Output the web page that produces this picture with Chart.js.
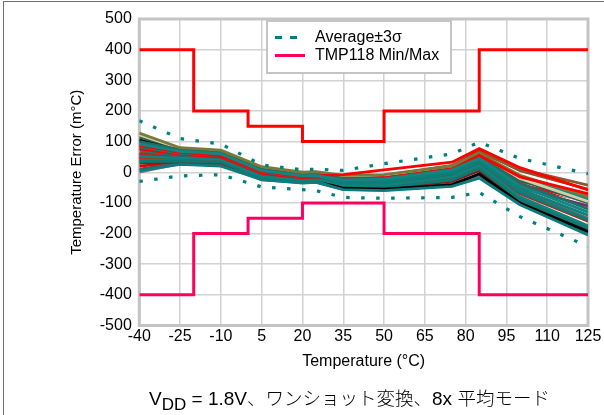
<!DOCTYPE html>
<html>
<head>
<meta charset="utf-8">
<script src="https://cdn.jsdelivr.net/npm/chart.js@4.4.0/dist/chart.umd.min.js"></script>
<style>
  html, body { margin: 0; padding: 0; background: #fff; }
  #wrap { position: relative; width: 604px; height: 415px; overflow: hidden; }
  #frame { position: absolute; left: 3px; top: 1px; width: 620px; height: 430px;
           border-left: 1.5px solid #6e6e6e; border-top: 1.5px solid #6e6e6e; }
  #chart { position: absolute; left: 0; top: 0; }
  #cap { position: absolute; left: 149px; top: 385px; text-align: left;
         font-family: "Liberation Sans", Arial, sans-serif; font-size: 19px; color: #000;
         white-space: nowrap; line-height: 24px; }
  #cap .ja { font-family: "Noto Sans CJK JP", sans-serif; font-weight: 300; font-size: 18.5px; }
  #cap sub { font-size: 17px; vertical-align: -5px; line-height: 0; }
</style>
</head>
<body>
<div id="wrap">
  <div id="frame"></div>
  <canvas id="chart" width="604" height="415"></canvas>
  <div id="cap">V<sub>DD</sub> = 1.8V<span class="ja">、ワンショット変換、</span>8x <span class="ja">平均モード</span></div>
</div>
<script>
// Measurement temperatures (°C)
const temps = [-40, -25, -10, 5, 20, 25, 35, 50, 75, 85, 100, 125];

// Temperature error of each measured unit (m°C), one list per unit
const deviceErrors = [
  [92, 68, 60, 5, -12, -10, -25, -22, 8, 45, -45, -130],
  [88, 65, 55, 2, -14, -12, -8, 8, 33, 77, 15, -58],
  [84, 62, 55, 0, -15, -13, -30, -28, 2, 40, -55, -140],
  [76, 58, 50, -4, -18, -15, -25, -18, 10, 55, -15, -70],
  [128, 80, 72, 18, 0, 2, -10, -8, 20, 62, -10, -80],
  [72, 56, 48, -6, -20, -18, -35, -35, -5, 32, -65, -155],
  [100, 74, 65, 10, -8, -5, -20, -18, 12, 50, -35, -120],
  [5, 26, 20, -24, -35, -33, -57, -60, -46, -19, -106, -205],
  [122, 78, 70, 15, -2, 0, -12, -10, 18, 60, -20, -95],
  [52, 47, 42, -14, -24, -22, -42, -42, -15, 22, -80, -175],
  [96, 72, 62, 8, -10, -8, -22, -15, 20, 65, 10, -42],
  [104, 71, 57, -3, -20, -18, -52, -55, -41, -5, -101, -193],
  [35, 36, 34, -20, -30, -28, -48, -50, -25, 12, -90, -185],
  [115, 76, 68, 12, -5, -3, -15, -12, 15, 55, -25, -100],
  [60, 50, 45, -10, -22, -20, -38, -38, -10, 28, -70, -160],
  [110, 75, 66, 14, -4, -2, -18, -12, 18, 60, -20, -85],
  [55, 48, 43, -12, -25, -22, -40, -40, -12, 25, -50, -110],
  [40, 38, 35, -20, -30, -28, -28, -20, 8, 50, -30, -75],
  [80, 60, 50, -2, -18, -16, -32, -30, 0, 38, -60, -150],
  [44, 42, 38, -18, -28, -26, -45, -45, -18, 20, -85, -180],
  [64, 52, 46, -8, -20, -18, -20, -10, 22, 70, 5, -55],
  [30, 34, 32, -22, -32, -30, -50, -52, -30, 5, -95, -188],
  [48, 45, 40, -15, -26, -24, -35, -30, -2, 40, -40, -90],
  [10, 30, 28, -23, -33, -31, -55, -56, -38, -8, -100, -196],
  [68, 55, 47, -8, -20, -18, -30, -25, 5, 45, -30, -100],
  [0, 28, 25, -25, -34, -32, -56, -58, -44, -15, -104, -200],
  [20, 32, 30, -16, -27, -25, -38, -35, -12, 30, -45, -95]
];

// Average ± 3 sigma envelope (m°C)
const avgPlus3Sigma  = [168, 110, 92, 24, 8, 10, 6, 28, 60, 98, 45, -5];
const avgMinus3Sigma = [-30, -12, -8, -48, -57, -60, -82, -85, -82, -66, -145, -242];

// Specified accuracy limits (m°C)
const limitTemps = [-40, -20, 0, 20, 50, 85, 125];
const maxLimit   = [400, 200, 150, 100, 200, 400, 400];
const minLimit   = [-400, -200, -150, -100, -200, -400, -400];

// Axis ticks
const xTicks = [-40, -25, -10, 5, 20, 35, 50, 65, 80, 95, 110, 125];
const yTicks = [-500, -400, -300, -200, -100, 0, 100, 200, 300, 400, 500];

// Line colour of each unit, same order as deviceErrors
const deviceColors = [
  '#138680', '#ff0000', '#0f7f7a', '#ff0000', '#7a7a38', '#0d7d78', '#1f6f68',
  '#0c7c7c', '#cfcfa8', '#11827c', '#8b5a2b', '#000000', '#0a7a74', '#2f5f4a',
  '#a0302a', '#168a84', '#70306a', '#ff1a1a', '#666666', '#8b4513', '#8b5030',
  '#8b1a1a', '#ff0000', '#555555', '#ffffff', '#777777', '#e00000'
];

const toPoints = (xs, ys) => xs.map((x, i) => ({ x, y: ys[i] }));

const datasets = [];
datasets.push({
  data: toPoints(limitTemps, maxLimit), borderColor: '#ff0000', borderWidth: 3,
  stepped: 'before', pointRadius: 0, order: 0
});
datasets.push({
  data: toPoints(limitTemps, minLimit), borderColor: '#ff0060', borderWidth: 3,
  stepped: 'before', pointRadius: 0, order: 0
});
datasets.push({
  data: toPoints(temps, avgPlus3Sigma), borderColor: '#008080', borderWidth: 3.2,
  borderDash: [3.5, 11.5], pointRadius: 0, order: 1
});
datasets.push({
  data: toPoints(temps, avgMinus3Sigma), borderColor: '#008080', borderWidth: 3.2,
  borderDash: [3.5, 11.5], pointRadius: 0, order: 1
});
deviceErrors.forEach((vals, i) => {
  datasets.push({
    data: toPoints(temps, vals), borderColor: deviceColors[i], borderWidth: 2.8,
    pointRadius: 0, tension: 0, order: 2
  });
});

const frameAndLegend = {
  id: 'frameAndLegend',
  beforeDatasetsDraw(chart) {
    const { ctx, chartArea: a } = chart;
    ctx.save();
    ctx.strokeStyle = '#c4c4c4';
    ctx.lineWidth = 3;
    ctx.strokeRect(a.left, a.top, a.right - a.left, a.bottom - a.top);
    ctx.restore();
  },
  afterDraw(chart) {
    const ctx = chart.ctx;
    ctx.save();
    ctx.fillStyle = '#ffffff';
    ctx.fillRect(267, 21, 184, 52);
    ctx.strokeStyle = '#c4c4c4';
    ctx.lineWidth = 2;
    ctx.strokeRect(267, 21, 184, 52);
    // dashed sample
    ctx.strokeStyle = '#008080';
    ctx.lineWidth = 3;
    ctx.setLineDash([7, 8]);
    ctx.beginPath(); ctx.moveTo(275, 37.5); ctx.lineTo(298, 37.5); ctx.stroke();
    ctx.setLineDash([]);
    // solid sample
    ctx.strokeStyle = '#ff0060';
    ctx.lineWidth = 3;
    ctx.beginPath(); ctx.moveTo(275, 55.5); ctx.lineTo(305, 55.5); ctx.stroke();
    ctx.fillStyle = '#000';
    ctx.font = '16px "Liberation Sans", Arial, sans-serif';
    ctx.textBaseline = 'middle';
    ctx.fillText('Average±3σ', 315, 38);
    ctx.fillText('TMP118 Min/Max', 315, 56);
    ctx.restore();
  }
};

const tickFont = { family: '"Liberation Sans", Arial, sans-serif', size: 16 };

new Chart(document.getElementById('chart'), {
  type: 'line',
  data: { datasets },
  plugins: [frameAndLegend],
  options: {
    responsive: false,
    animation: false,
    events: [],
    layout: { padding: { left: 0, right: 16, top: 19, bottom: 41.5 } },
    plugins: { legend: { display: false }, tooltip: { enabled: false } },
    scales: {
      x: {
        type: 'linear', min: -40, max: 125,
        afterBuildTicks: s => { s.ticks = xTicks.map(v => ({ value: v })); },
        afterFit: s => { s.height = 48; },
        grid: { color: '#d2d2d2', lineWidth: 1.5, drawTicks: false },
        border: { display: false },
        ticks: { color: '#000', font: tickFont, padding: 1, maxRotation: 0, autoSkip: false },
        title: { display: true, text: 'Temperature (°C)', color: '#000', font: tickFont,
                 padding: { top: 0, bottom: 2 } }
      },
      y: {
        type: 'linear', min: -500, max: 500,
        afterBuildTicks: s => { s.ticks = yTicks.map(v => ({ value: v })); },
        afterFit: s => { s.width = 139.3; },
        grid: { color: '#d2d2d2', lineWidth: 1.5, drawTicks: false },
        border: { display: false },
        ticks: { color: '#000', font: tickFont, padding: 7.5, autoSkip: false },
        title: { display: true, text: 'Temperature Error (m°C)', color: '#000',
                 font: { family: '"Liberation Sans", Arial, sans-serif', size: 15 },
                 padding: { top: 68, bottom: 0 } }
      }
    }
  }
});
</script>
</body>
</html>
